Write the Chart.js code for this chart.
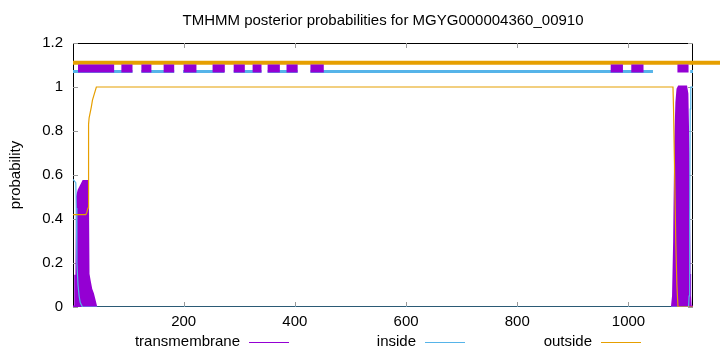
<!DOCTYPE html>
<html>
<head>
<meta charset="utf-8">
<script src="https://cdn.jsdelivr.net/npm/chart.js@4.4.0/dist/chart.umd.min.js"></script>
<style>
html, body { margin: 0; padding: 0; background: #fff; }
</style>
</head>
<body>
<canvas id="tmhmm-chart" width="720" height="352"></canvas>
<script>
const chartTitle = 'TMHMM posterior probabilities for MGYG000004360_00910';
const seqLength = 1116;
const xTicks = [200, 400, 600, 800, 1000];
const yTicks = [0, 0.2, 0.4, 0.6, 0.8, 1, 1.2];
const seriesNames = ['transmembrane', 'inside', 'outside'];
const seriesColors = ['#9400d3', '#56b4e9', '#e69f00'];

// posterior curves (null = no line drawn along the baseline)
const tmPos = [1, 5, 6, 8, 9, 12, 16, 20, 26, 27, 28, 30, 33, 36, 39, 42, 560, 1079, 1081, 1083, 1085, 1087, 1089, 1091, 1103, 1105, 1107, 1108, 1109, 1110, 1111, 1116];
const tmProb = [0, 0, 0.14, 0.14, 0.5, 0.53, 0.55, 0.57, 0.57, 0.5, 0.15, 0.12, 0.08, 0.06, 0.03, 0, null, 0, 0.05, 0.3, 0.75, 0.93, 0.99, 1, 1, 0.97, 0.7, 0.4, 0.15, 0.05, 0, 0];

const insidePos = [1, 6, 7, 8, 10, 12, 14, 18, 1108, 1109, 1110, 1111, 1112, 1116];
const insideProb = [0.58, 0.565, 0.45, 0.2, 0.1, 0.05, 0.02, 0, 0, 0.05, 0.4, 0.9, 1, 1];

const outsidePos = [1, 24, 26, 28, 29, 30, 34, 36, 43, 1080, 1081, 1083, 1085, 1087, 1089, 1116];
const outsideProb = [0.42, 0.42, 0.43, 0.45, 0.83, 0.86, 0.91, 0.94, 1, 1, 0.9, 0.6, 0.3, 0.1, 0, 0];

// topology bars above the curves
const tmSegments = [[10, 75], [88, 108], [124, 142], [164, 183], [200, 223], [252, 274], [290, 310], [324, 340], [351, 373], [385, 405], [428, 452], [968, 990], [1005, 1027], [1088, 1108]];
const insideSegments = [[1, 108], [124, 183], [199, 273], [290, 340], [351, 405], [428, 1044], [1111, 1116]];
const outsideSegments = [[1, 1165]];
const barLevels = [1.084, 1.07, 1.11];

function curve(pos, vals) {
    return pos.map((x, i) => ({ x: x, y: vals[i] }));
}

function bars(segs, level) {
    let pts = [];
    segs.forEach(([a, b], i) => {
        if (i > 0) pts.push({ x: (segs[i - 1][1] + a) / 2, y: null });
        pts.push({ x: a, y: level }, { x: b, y: level });
    });
    return pts;
}

const framePlugin = {
    id: 'frame',
    beforeDatasetsDraw(chart) {
        const { ctx, chartArea: a, scales: { x, y } } = chart;
        ctx.save();
        ctx.strokeStyle = '#000';
        ctx.lineWidth = 1;
        ctx.strokeRect(a.left + 0.5, a.top + 0.5, a.right - a.left - 1, a.bottom - a.top - 1);
        ctx.strokeStyle = '#999';
        ctx.beginPath();
        xTicks.forEach(v => {
            const px = Math.round(x.getPixelForValue(v)) + 0.5;
            ctx.moveTo(px, a.bottom); ctx.lineTo(px, a.bottom - 5);
            ctx.moveTo(px, a.top); ctx.lineTo(px, a.top + 5);
        });
        yTicks.forEach(v => {
            const py = Math.round(y.getPixelForValue(v)) + 0.5;
            ctx.moveTo(a.left, py); ctx.lineTo(a.left + 5, py);
            ctx.moveTo(a.right, py); ctx.lineTo(a.right - 5, py);
        });
        ctx.stroke();
        ctx.restore();
    },
    afterDraw(chart) {
        const { ctx, chartArea: a } = chart;
        ctx.save();
        ctx.fillStyle = '#000';
        ctx.font = '15px "Liberation Sans", Arial, sans-serif';
        ctx.textAlign = 'center';
        ctx.textBaseline = 'middle';
        ctx.fillText(chartTitle, (a.left + a.right) / 2, 21);

        ctx.save();
        ctx.translate(16, (a.top + a.bottom) / 2);
        ctx.rotate(-Math.PI / 2);
        ctx.fillText('probability', 0, 0);
        ctx.restore();

        // legend along the bottom
        const textRight = [240, 416, 592];
        ctx.textAlign = 'right';
        seriesNames.forEach((name, i) => {
            ctx.fillStyle = '#000';
            ctx.fillText(name, textRight[i], 342);
            ctx.strokeStyle = seriesColors[i];
            ctx.lineWidth = 1;
            ctx.beginPath();
            ctx.moveTo(textRight[i] + 9, 342.5);
            ctx.lineTo(textRight[i] + 49, 342.5);
            ctx.stroke();
        });
        ctx.restore();
    }
};

Chart.defaults.font.family = '"Liberation Sans", Arial, sans-serif';
Chart.defaults.font.size = 15;
Chart.defaults.color = '#000';

const chart = new Chart(document.getElementById('tmhmm-chart').getContext('2d'), {
    type: 'line',
    data: {
        datasets: [
            {
                label: seriesNames[0],
                data: curve(tmPos, tmProb),
                borderColor: seriesColors[0],
                backgroundColor: seriesColors[0],
                fill: 'origin',
                borderWidth: 3,
                order: 6
            },
            {
                label: seriesNames[1],
                data: curve(insidePos, insideProb),
                borderColor: seriesColors[1],
                borderWidth: 1.2,
                fill: false,
                order: 5
            },
            {
                label: seriesNames[2],
                data: curve(outsidePos, outsideProb),
                borderColor: seriesColors[2],
                borderWidth: 1.2,
                fill: false,
                order: 4
            },
            {
                label: 'outside bar',
                data: bars(outsideSegments, barLevels[2]),
                borderColor: seriesColors[2],
                borderWidth: 4,
                borderCapStyle: 'butt',
                fill: false,
                clip: false,
                order: 3
            },
            {
                label: 'inside bar',
                data: bars(insideSegments, barLevels[1]),
                borderColor: seriesColors[1],
                borderWidth: 3,
                borderCapStyle: 'butt',
                fill: false,
                order: 2
            },
            {
                label: 'tm bar',
                data: bars(tmSegments, barLevels[0]),
                borderColor: seriesColors[0],
                borderWidth: 8,
                borderCapStyle: 'butt',
                fill: false,
                order: 1
            }
        ]
    },
    options: {
        responsive: false,
        animation: false,
        events: [],
        devicePixelRatio: 1,
        spanGaps: false,
        elements: { point: { radius: 0 }, line: { tension: 0 } },
        layout: { padding: { left: 0, top: 43, right: 27, bottom: 0 } },
        plugins: {
            legend: { display: false },
            title: { display: false },
            tooltip: { enabled: false }
        },
        scales: {
            x: {
                type: 'linear',
                min: 1,
                max: seqLength,
                grid: { display: false, drawTicks: false },
                border: { display: false },
                afterBuildTicks: scale => { scale.ticks = xTicks.map(v => ({ value: v })); },
                afterFit: scale => { scale.height = 45; },
                ticks: { padding: 6, maxRotation: 0, autoSkip: false, callback: v => String(v) }
            },
            y: {
                type: 'linear',
                min: 0,
                max: 1.2,
                grid: { display: false, drawTicks: false },
                border: { display: false },
                afterBuildTicks: scale => { scale.ticks = yTicks.map(v => ({ value: v })); },
                afterFit: scale => { scale.width = 73; },
                ticks: { padding: 10, callback: v => String(Math.round(v * 10) / 10) }
            }
        }
    },
    plugins: [framePlugin]
});
</script>
</body>
</html>
